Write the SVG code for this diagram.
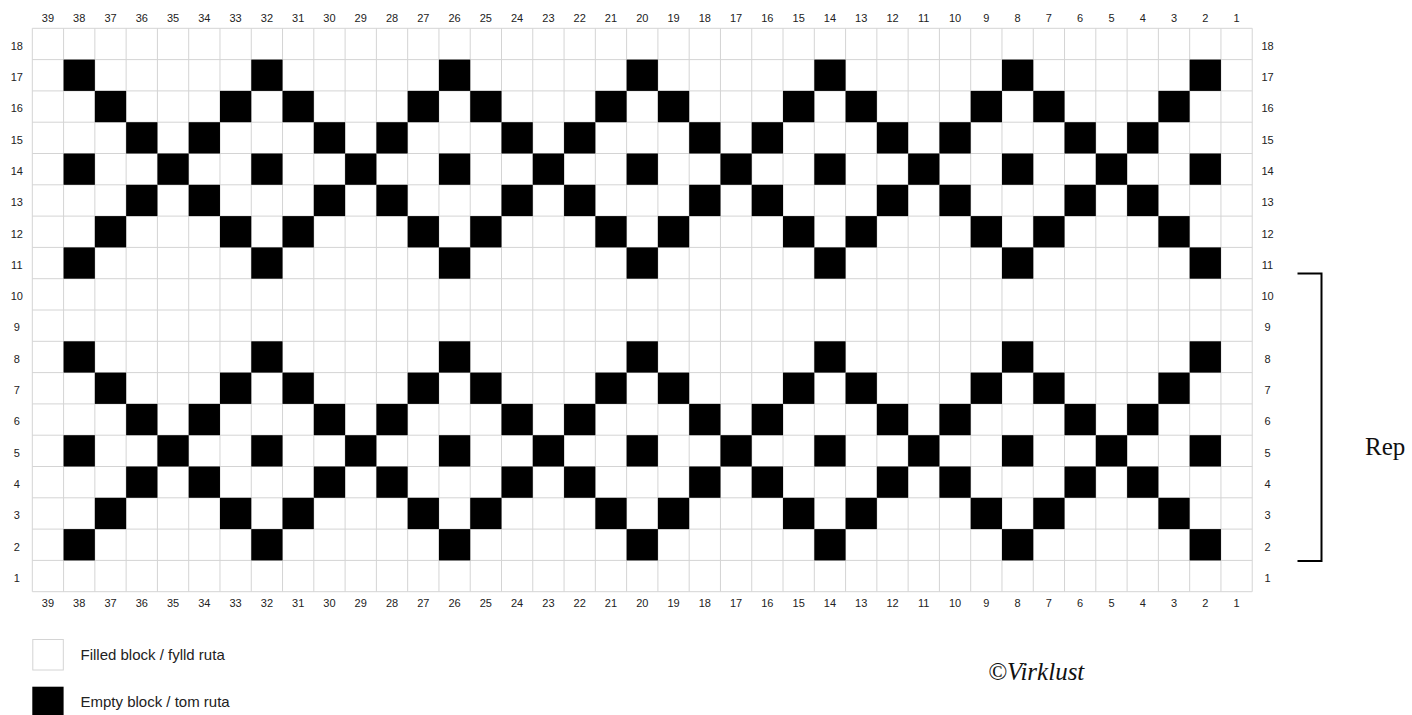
<svg xmlns="http://www.w3.org/2000/svg" xmlns:xlink="http://www.w3.org/1999/xlink" width="1412" height="715" viewBox="0 0 1412 715">
<style>
.lbl{font-family:"Liberation Sans",Arial,sans-serif;font-size:11px;fill:#222;text-anchor:middle}
.leg{font-family:"Liberation Sans",Arial,sans-serif;font-size:15px;fill:#222}
.ser{font-family:"Liberation Serif","Times New Roman",serif;font-size:25px;fill:#111}
.grid{stroke:#d4d4d4;stroke-width:1;fill:none}
.b{fill:#000}
</style>
<defs>
<g id="band">
<!-- row offset 0 -->
<rect class="b" x="63.58" y="59.6" width="31.28" height="31.3"/>
<rect class="b" x="251.26" y="59.6" width="31.28" height="31.3"/>
<rect class="b" x="438.94" y="59.6" width="31.28" height="31.3"/>
<rect class="b" x="626.62" y="59.6" width="31.28" height="31.3"/>
<rect class="b" x="814.30" y="59.6" width="31.28" height="31.3"/>
<rect class="b" x="1001.98" y="59.6" width="31.28" height="31.3"/>
<rect class="b" x="1189.66" y="59.6" width="31.28" height="31.3"/>
<!-- row offset 1 -->
<rect class="b" x="94.86" y="90.9" width="31.28" height="31.3"/>
<rect class="b" x="219.98" y="90.9" width="31.28" height="31.3"/>
<rect class="b" x="282.54" y="90.9" width="31.28" height="31.3"/>
<rect class="b" x="407.66" y="90.9" width="31.28" height="31.3"/>
<rect class="b" x="470.22" y="90.9" width="31.28" height="31.3"/>
<rect class="b" x="595.34" y="90.9" width="31.28" height="31.3"/>
<rect class="b" x="657.90" y="90.9" width="31.28" height="31.3"/>
<rect class="b" x="783.02" y="90.9" width="31.28" height="31.3"/>
<rect class="b" x="845.58" y="90.9" width="31.28" height="31.3"/>
<rect class="b" x="970.70" y="90.9" width="31.28" height="31.3"/>
<rect class="b" x="1033.26" y="90.9" width="31.28" height="31.3"/>
<rect class="b" x="1158.38" y="90.9" width="31.28" height="31.3"/>
<!-- row offset 2 -->
<rect class="b" x="126.14" y="122.2" width="31.28" height="31.3"/>
<rect class="b" x="188.70" y="122.2" width="31.28" height="31.3"/>
<rect class="b" x="313.82" y="122.2" width="31.28" height="31.3"/>
<rect class="b" x="376.38" y="122.2" width="31.28" height="31.3"/>
<rect class="b" x="501.50" y="122.2" width="31.28" height="31.3"/>
<rect class="b" x="564.06" y="122.2" width="31.28" height="31.3"/>
<rect class="b" x="689.18" y="122.2" width="31.28" height="31.3"/>
<rect class="b" x="751.74" y="122.2" width="31.28" height="31.3"/>
<rect class="b" x="876.86" y="122.2" width="31.28" height="31.3"/>
<rect class="b" x="939.42" y="122.2" width="31.28" height="31.3"/>
<rect class="b" x="1064.54" y="122.2" width="31.28" height="31.3"/>
<rect class="b" x="1127.10" y="122.2" width="31.28" height="31.3"/>
<!-- row offset 3 -->
<rect class="b" x="63.58" y="153.5" width="31.28" height="31.3"/>
<rect class="b" x="157.42" y="153.5" width="31.28" height="31.3"/>
<rect class="b" x="251.26" y="153.5" width="31.28" height="31.3"/>
<rect class="b" x="345.10" y="153.5" width="31.28" height="31.3"/>
<rect class="b" x="438.94" y="153.5" width="31.28" height="31.3"/>
<rect class="b" x="532.78" y="153.5" width="31.28" height="31.3"/>
<rect class="b" x="626.62" y="153.5" width="31.28" height="31.3"/>
<rect class="b" x="720.46" y="153.5" width="31.28" height="31.3"/>
<rect class="b" x="814.30" y="153.5" width="31.28" height="31.3"/>
<rect class="b" x="908.14" y="153.5" width="31.28" height="31.3"/>
<rect class="b" x="1001.98" y="153.5" width="31.28" height="31.3"/>
<rect class="b" x="1095.82" y="153.5" width="31.28" height="31.3"/>
<rect class="b" x="1189.66" y="153.5" width="31.28" height="31.3"/>
<!-- row offset 4 -->
<rect class="b" x="126.14" y="184.8" width="31.28" height="31.3"/>
<rect class="b" x="188.70" y="184.8" width="31.28" height="31.3"/>
<rect class="b" x="313.82" y="184.8" width="31.28" height="31.3"/>
<rect class="b" x="376.38" y="184.8" width="31.28" height="31.3"/>
<rect class="b" x="501.50" y="184.8" width="31.28" height="31.3"/>
<rect class="b" x="564.06" y="184.8" width="31.28" height="31.3"/>
<rect class="b" x="689.18" y="184.8" width="31.28" height="31.3"/>
<rect class="b" x="751.74" y="184.8" width="31.28" height="31.3"/>
<rect class="b" x="876.86" y="184.8" width="31.28" height="31.3"/>
<rect class="b" x="939.42" y="184.8" width="31.28" height="31.3"/>
<rect class="b" x="1064.54" y="184.8" width="31.28" height="31.3"/>
<rect class="b" x="1127.10" y="184.8" width="31.28" height="31.3"/>
<!-- row offset 5 -->
<rect class="b" x="94.86" y="216.1" width="31.28" height="31.3"/>
<rect class="b" x="219.98" y="216.1" width="31.28" height="31.3"/>
<rect class="b" x="282.54" y="216.1" width="31.28" height="31.3"/>
<rect class="b" x="407.66" y="216.1" width="31.28" height="31.3"/>
<rect class="b" x="470.22" y="216.1" width="31.28" height="31.3"/>
<rect class="b" x="595.34" y="216.1" width="31.28" height="31.3"/>
<rect class="b" x="657.90" y="216.1" width="31.28" height="31.3"/>
<rect class="b" x="783.02" y="216.1" width="31.28" height="31.3"/>
<rect class="b" x="845.58" y="216.1" width="31.28" height="31.3"/>
<rect class="b" x="970.70" y="216.1" width="31.28" height="31.3"/>
<rect class="b" x="1033.26" y="216.1" width="31.28" height="31.3"/>
<rect class="b" x="1158.38" y="216.1" width="31.28" height="31.3"/>
<!-- row offset 6 -->
<rect class="b" x="63.58" y="247.4" width="31.28" height="31.3"/>
<rect class="b" x="251.26" y="247.4" width="31.28" height="31.3"/>
<rect class="b" x="438.94" y="247.4" width="31.28" height="31.3"/>
<rect class="b" x="626.62" y="247.4" width="31.28" height="31.3"/>
<rect class="b" x="814.30" y="247.4" width="31.28" height="31.3"/>
<rect class="b" x="1001.98" y="247.4" width="31.28" height="31.3"/>
<rect class="b" x="1189.66" y="247.4" width="31.28" height="31.3"/>
</g>
</defs>
<rect width="1412" height="715" fill="#fff"/>
<g id="grid">
<rect x="32.3" y="28.3" width="1219.92" height="563.4" fill="#fff"/>
<path class="grid" d="M32.3 28.3V591.7M63.58 28.3V591.7M94.86 28.3V591.7M126.14 28.3V591.7M157.42 28.3V591.7M188.7 28.3V591.7M219.98 28.3V591.7M251.26 28.3V591.7M282.54 28.3V591.7M313.82 28.3V591.7M345.1 28.3V591.7M376.38 28.3V591.7M407.66 28.3V591.7M438.94 28.3V591.7M470.22 28.3V591.7M501.5 28.3V591.7M532.78 28.3V591.7M564.06 28.3V591.7M595.34 28.3V591.7M626.62 28.3V591.7M657.9 28.3V591.7M689.18 28.3V591.7M720.46 28.3V591.7M751.74 28.3V591.7M783.02 28.3V591.7M814.3 28.3V591.7M845.58 28.3V591.7M876.86 28.3V591.7M908.14 28.3V591.7M939.42 28.3V591.7M970.7 28.3V591.7M1001.98 28.3V591.7M1033.26 28.3V591.7M1064.54 28.3V591.7M1095.82 28.3V591.7M1127.1 28.3V591.7M1158.38 28.3V591.7M1189.66 28.3V591.7M1220.94 28.3V591.7M1252.22 28.3V591.7
M32.3 28.3H1252.22M32.3 59.6H1252.22M32.3 90.9H1252.22M32.3 122.2H1252.22M32.3 153.5H1252.22M32.3 184.8H1252.22M32.3 216.1H1252.22M32.3 247.4H1252.22M32.3 278.7H1252.22M32.3 310H1252.22M32.3 341.3H1252.22M32.3 372.6H1252.22M32.3 403.9H1252.22M32.3 435.2H1252.22M32.3 466.5H1252.22M32.3 497.8H1252.22M32.3 529.1H1252.22M32.3 560.4H1252.22M32.3 591.7H1252.22"/>
</g>
<g id="cells">
<use xlink:href="#band" href="#band"/>
<use xlink:href="#band" href="#band" y="281.7"/>
</g>
<g id="col-labels-top" class="lbl">
<text x="47.94" y="22.3">39</text><text x="79.22" y="22.3">38</text><text x="110.5" y="22.3">37</text><text x="141.78" y="22.3">36</text><text x="173.06" y="22.3">35</text><text x="204.34" y="22.3">34</text><text x="235.62" y="22.3">33</text><text x="266.9" y="22.3">32</text><text x="298.18" y="22.3">31</text><text x="329.46" y="22.3">30</text><text x="360.74" y="22.3">29</text><text x="392.02" y="22.3">28</text><text x="423.3" y="22.3">27</text><text x="454.58" y="22.3">26</text><text x="485.86" y="22.3">25</text><text x="517.14" y="22.3">24</text><text x="548.42" y="22.3">23</text><text x="579.7" y="22.3">22</text><text x="610.98" y="22.3">21</text><text x="642.26" y="22.3">20</text><text x="673.54" y="22.3">19</text><text x="704.82" y="22.3">18</text><text x="736.1" y="22.3">17</text><text x="767.38" y="22.3">16</text><text x="798.66" y="22.3">15</text><text x="829.94" y="22.3">14</text><text x="861.22" y="22.3">13</text><text x="892.5" y="22.3">12</text><text x="923.78" y="22.3">11</text><text x="955.06" y="22.3">10</text><text x="986.34" y="22.3">9</text><text x="1017.62" y="22.3">8</text><text x="1048.9" y="22.3">7</text><text x="1080.18" y="22.3">6</text><text x="1111.46" y="22.3">5</text><text x="1142.74" y="22.3">4</text><text x="1174.02" y="22.3">3</text><text x="1205.3" y="22.3">2</text><text x="1236.58" y="22.3">1</text>
</g>
<g id="col-labels-bottom" class="lbl">
<text x="47.94" y="607.3">39</text><text x="79.22" y="607.3">38</text><text x="110.5" y="607.3">37</text><text x="141.78" y="607.3">36</text><text x="173.06" y="607.3">35</text><text x="204.34" y="607.3">34</text><text x="235.62" y="607.3">33</text><text x="266.9" y="607.3">32</text><text x="298.18" y="607.3">31</text><text x="329.46" y="607.3">30</text><text x="360.74" y="607.3">29</text><text x="392.02" y="607.3">28</text><text x="423.3" y="607.3">27</text><text x="454.58" y="607.3">26</text><text x="485.86" y="607.3">25</text><text x="517.14" y="607.3">24</text><text x="548.42" y="607.3">23</text><text x="579.7" y="607.3">22</text><text x="610.98" y="607.3">21</text><text x="642.26" y="607.3">20</text><text x="673.54" y="607.3">19</text><text x="704.82" y="607.3">18</text><text x="736.1" y="607.3">17</text><text x="767.38" y="607.3">16</text><text x="798.66" y="607.3">15</text><text x="829.94" y="607.3">14</text><text x="861.22" y="607.3">13</text><text x="892.5" y="607.3">12</text><text x="923.78" y="607.3">11</text><text x="955.06" y="607.3">10</text><text x="986.34" y="607.3">9</text><text x="1017.62" y="607.3">8</text><text x="1048.9" y="607.3">7</text><text x="1080.18" y="607.3">6</text><text x="1111.46" y="607.3">5</text><text x="1142.74" y="607.3">4</text><text x="1174.02" y="607.3">3</text><text x="1205.3" y="607.3">2</text><text x="1236.58" y="607.3">1</text>
</g>
<g id="row-labels-left" class="lbl">
<text x="16.8" y="49.7">18</text><text x="16.8" y="81">17</text><text x="16.8" y="112.3">16</text><text x="16.8" y="143.6">15</text><text x="16.8" y="174.9">14</text><text x="16.8" y="206.2">13</text><text x="16.8" y="237.5">12</text><text x="16.8" y="268.8">11</text><text x="16.8" y="300.1">10</text><text x="16.8" y="331.4">9</text><text x="16.8" y="362.7">8</text><text x="16.8" y="394">7</text><text x="16.8" y="425.3">6</text><text x="16.8" y="456.6">5</text><text x="16.8" y="487.9">4</text><text x="16.8" y="519.2">3</text><text x="16.8" y="550.5">2</text><text x="16.8" y="581.8">1</text>
</g>
<g id="row-labels-right" class="lbl">
<text x="1267.5" y="49.7">18</text><text x="1267.5" y="81">17</text><text x="1267.5" y="112.3">16</text><text x="1267.5" y="143.6">15</text><text x="1267.5" y="174.9">14</text><text x="1267.5" y="206.2">13</text><text x="1267.5" y="237.5">12</text><text x="1267.5" y="268.8">11</text><text x="1267.5" y="300.1">10</text><text x="1267.5" y="331.4">9</text><text x="1267.5" y="362.7">8</text><text x="1267.5" y="394">7</text><text x="1267.5" y="425.3">6</text><text x="1267.5" y="456.6">5</text><text x="1267.5" y="487.9">4</text><text x="1267.5" y="519.2">3</text><text x="1267.5" y="550.5">2</text><text x="1267.5" y="581.8">1</text>
</g>
<g id="repeat-bracket">
<path d="M1297.5 273.5H1321.5V561H1297.5" fill="none" stroke="#000" stroke-width="2"/>
<text class="ser" x="1365" y="455">Rep</text>
</g>
<g id="legend">
<rect x="32.8" y="639.5" width="30.5" height="30.5" fill="#fff" stroke="#d4d4d4" stroke-width="1"/>
<text class="leg" x="80.5" y="660">Filled block / fylld ruta</text>
<rect x="32.3" y="686.7" width="31.3" height="31.3" fill="#000"/>
<text class="leg" x="80.5" y="707">Empty block / tom ruta</text>
</g>
<g id="credit">
<text class="ser" x="988" y="680" font-style="italic">©Virklust</text>
</g>
</svg>
